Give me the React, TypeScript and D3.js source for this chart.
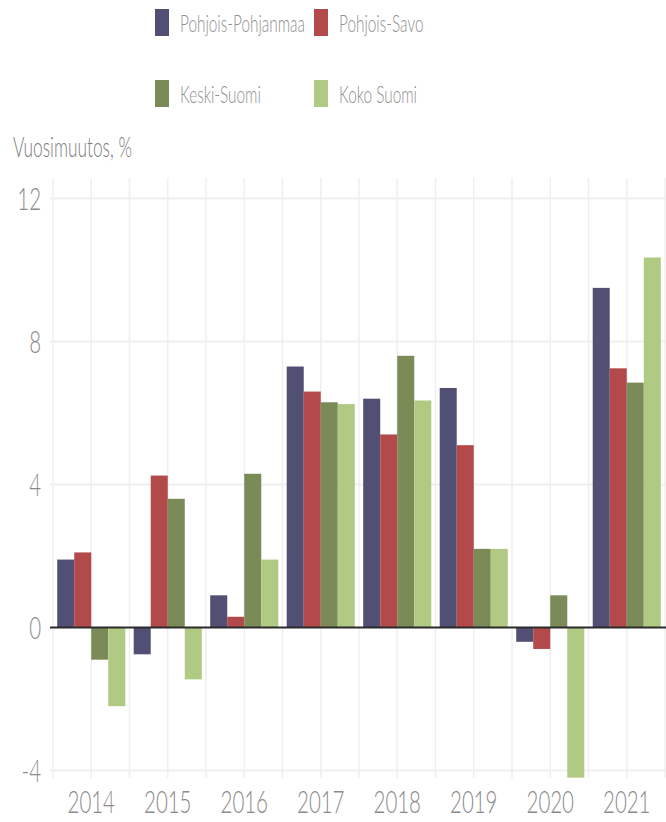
import React from "react";
import * as d3 from "d3";

const years = ["2014", "2015", "2016", "2017", "2018", "2019", "2020", "2021"];
const seriesNames = ["Pohjois-Pohjanmaa", "Pohjois-Savo", "Keski-Suomi", "Koko Suomi"];
const pohjoisPohjanmaa = [1.9, -0.75, 0.9, 7.3, 6.4, 6.7, -0.4, 9.5];
const pohjoisSavo = [2.1, 4.25, 0.3, 6.6, 5.4, 5.1, -0.6, 7.25];
const keskiSuomi = [-0.9, 3.6, 4.3, 6.3, 7.6, 2.2, 0.9, 6.85];
const kokoSuomi = [-2.2, -1.45, 1.9, 6.25, 6.35, 2.2, -4.2, 10.35];
const yTicks = [-4, 0, 4, 8, 12];
const colors = ["#514f74", "#b24a4b", "#7a8b58", "#b1ca83"];

const width = 666,
  height = 822;
const left = 53,
  right = 665,
  top = 198.5,
  bottom = 770.5;
const FONT = "Lato, 'Open Sans', sans-serif";

// condensed looking text (source font is narrow)
function CText(props: any) {
  const { x, y, size, fill, anchor, sx, children } = props;
  return (
    <text
      transform={"translate(" + x + "," + y + ") scale(" + (sx || 0.66) + ",1)"}
      fontFamily={FONT}
      fontWeight={300}
      fontSize={size}
      fill={fill}
      textAnchor={anchor || "start"}
    >
      {children}
    </text>
  );
}

export default function App() {
  const series = [pohjoisPohjanmaa, pohjoisSavo, keskiSuomi, kokoSuomi];

  const x = d3.scaleBand().domain(years).range([left, right]).padding(0);
  const bw = x.bandwidth();
  const xInner = d3
    .scaleBand()
    .domain(seriesNames)
    .range([bw * 0.055, bw * 0.945])
    .padding(0);
  const y = d3.scaleLinear().domain([-4, 12]).range([bottom, top]);

  // gridlines at band edges and centres
  const vLines: number[] = [];
  years.forEach((yr) => {
    vLines.push(x(yr)!);
    vLines.push(x(yr)! + bw / 2);
  });
  vLines.push(right);

  const legendItems = [
    { name: seriesNames[0], color: colors[0], lx: 155, ly: 9 },
    { name: seriesNames[1], color: colors[1], lx: 314, ly: 9 },
    { name: seriesNames[2], color: colors[2], lx: 155, ly: 80 },
    { name: seriesNames[3], color: colors[3], lx: 314, ly: 80 }
  ];

  return (
    <svg
      width={width}
      height={height}
      style={{ position: "absolute", left: 0, top: 0, background: "#fff" }}
    >
      {/* legend */}
      {legendItems.map((d) => (
        <g key={d.name}>
          <rect x={d.lx} y={d.ly} width={14} height={27} fill={d.color} />
          <CText x={d.lx + 25} y={d.ly + 23} size={24} sx={0.64} fill="#8f8f8f">
            {d.name}
          </CText>
        </g>
      ))}

      <CText x={13} y={157} size={28} sx={0.62} fill="#7d7d7d">
        Vuosimuutos, %
      </CText>

      {/* grid */}
      {vLines.map((v, i) => (
        <line
          key={"v" + i}
          x1={v}
          x2={v}
          y1={178}
          y2={778}
          stroke="#efefef"
          strokeWidth={1.5}
        />
      ))}
      {yTicks
        .filter((t) => t !== 0)
        .map((t) => (
          <line
            key={"h" + t}
            x1={50}
            x2={width}
            y1={y(t)}
            y2={y(t)}
            stroke="#efefef"
            strokeWidth={2}
          />
        ))}

      {/* bars */}
      {years.map((yr, i) => (
        <g key={yr} transform={"translate(" + x(yr) + ",0)"}>
          {series.map((s, j) => (
            <rect
              key={j}
              x={xInner(seriesNames[j])}
              width={xInner.bandwidth()}
              y={y(Math.max(0, s[i]))}
              height={Math.abs(y(s[i]) - y(0))}
              fill={colors[j]}
            />
          ))}
        </g>
      ))}

      <line x1={50} x2={width} y1={y(0)} y2={y(0)} stroke="#2b2b2b" strokeWidth={2} />

      {/* y labels */}
      {yTicks.map((t) => (
        <CText key={"yl" + t} x={41} y={y(t) + 11} size={31} fill="#8a8a8a" anchor="end">
          {t}
        </CText>
      ))}

      {/* x labels */}
      {years.map((yr) => (
        <CText key={"xl" + yr} x={x(yr)! + bw / 2} y={813} size={31} fill="#8a8a8a" anchor="middle">
          {yr}
        </CText>
      ))}
    </svg>
  );
}
